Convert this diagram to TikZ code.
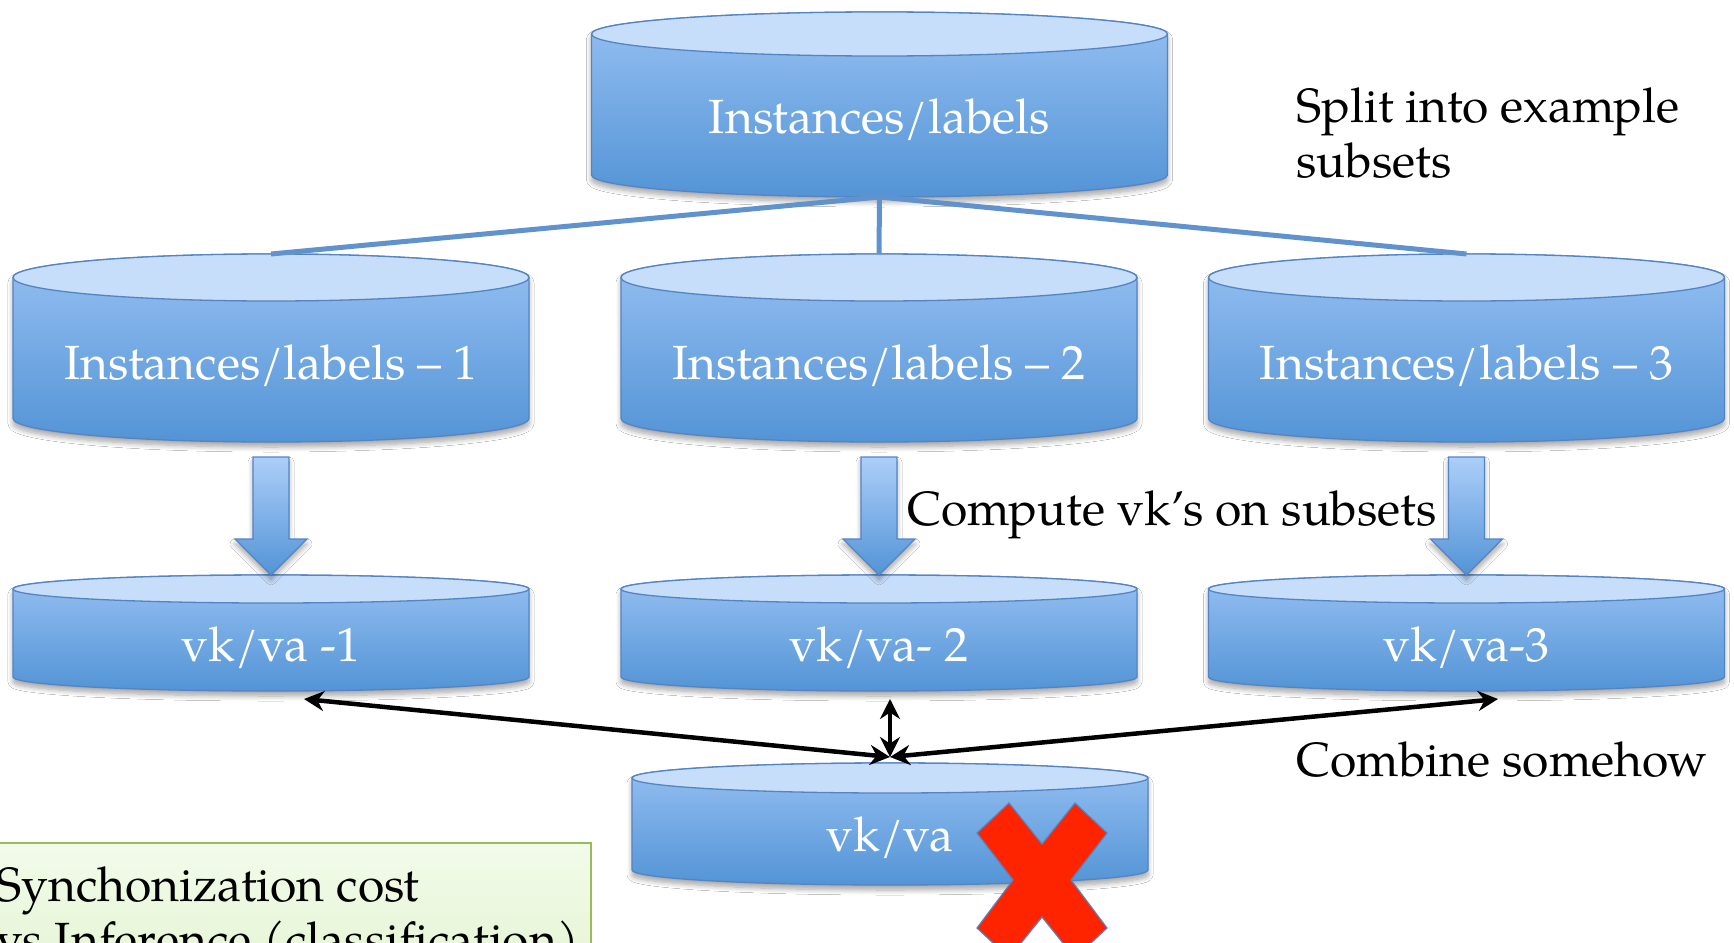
\documentclass[tikz,border=0pt]{standalone}
\usepackage{fontspec}
\setmainfont{texgyrepagella-regular.otf}
\usetikzlibrary{arrows.meta,shadows.blur}
\definecolor{topfill}{RGB}{199,222,250}
\definecolor{bodytop}{RGB}{150,192,242}
\definecolor{bodybot}{RGB}{83,148,214}
\definecolor{cylborder}{RGB}{84,132,196}
\definecolor{splitcol}{RGB}{96,146,206}
\definecolor{arrtop}{RGB}{172,206,250}
\definecolor{xred}{RGB}{255,36,0}
\definecolor{gtop}{RGB}{242,251,234}
\definecolor{gbot}{RGB}{226,243,206}
\definecolor{gborder}{RGB}{155,187,89}
\tikzset{
  myshadow/.style={blur shadow={shadow xshift=0pt,shadow yshift=-5pt,shadow blur radius=5pt,shadow blur steps=8,shadow opacity=35}},
  cylbody/.style={top color=bodytop,bottom color=bodybot,draw=cylborder,line width=1.3pt,myshadow},
  cyltop/.style={fill=topfill,draw=cylborder,line width=1.3pt},
  cyltext/.style={text=white,font=\fontsize{48}{58}\selectfont,inner sep=0pt,anchor=base},
  lbl/.style={text=black,font=\fontsize{48}{55}\selectfont,inner sep=0pt},
  splitline/.style={draw=splitcol,line width=5pt},
  barrow/.style={top color=arrtop,bottom color=bodybot,draw=cylborder,line width=1.3pt,myshadow},
  biarrow/.style={draw=black,line width=4.5pt,{Stealth[length=20pt,width=20pt]}-{Stealth[length=20pt,width=20pt]}},
  xmark/.style={fill=xred,draw=cylborder,line width=1.2pt},
  greenbox/.style={top color=gtop,bottom color=gbot,draw=gborder,line width=1.8pt}
}
% name, cx, top-ellipse cy, bottom-ellipse cy, rx, ry, text baseline, text
\newcommand{\dbcyl}[8]{%
  \path[cylbody] ({#2-#5},#3) -- ({#2-#5},#4)
    arc[start angle=180,end angle=360,x radius=#5pt,y radius=#6pt]
    -- ({#2+#5},#3)
    arc[start angle=0,end angle=180,x radius=#5pt,y radius=#6pt] -- cycle;
  \path[cyltop] (#2,#3) ellipse[x radius=#5pt,y radius=#6pt];
  \node[cyltext] (#1) at (#2,#7) {#8};
  \coordinate (#1-n) at (#2,{#3-#6});
  \coordinate (#1-s) at (#2,{#4+#6});
}
\newcommand{\blockarrow}[1]{%
  \path[barrow] ({#1-18},457) -- ({#1+18},457) -- ({#1+18},539) -- ({#1+36},539)
    -- (#1,575) -- ({#1-36},539) -- ({#1-18},539) -- cycle;
}
\begin{document}
\begin{tikzpicture}[x=1pt,y=-1pt]
\useasboundingbox (0,0) rectangle (1734,942);
\fill[white] (0,0) rectangle (1734,942);

% note box
\path[greenbox] (-20,843) rectangle (591,1010);
\node[lbl,anchor=north west,align=left] (sync) at (-4,866)
  {Synchonization cost\\vs Inference (classification)};

% cylinders
\dbcyl{top}{879.5}{34}{175}{288}{22}{133}{Instances/labels}
\dbcyl{l1}{271}{277.5}{418.5}{258}{23.5}{379}{Instances/labels – 1}
\dbcyl{l2}{879}{277.5}{418.5}{258}{23.5}{379}{Instances/labels – 2}
\dbcyl{l3}{1466.5}{277.5}{418.5}{258}{23.5}{379}{Instances/labels – 3}

\draw[splitline] (top-s) -- (l1-n);
\draw[splitline] (top-s) -- (l2-n);
\draw[splitline] (top-s) -- (l3-n);

\dbcyl{v1}{271}{589}{677}{258}{14}{661}{vk/va -1}
\dbcyl{v2}{879}{589}{677}{258}{14}{661}{vk/va- 2}
\dbcyl{v3}{1466.5}{589}{677}{258}{14}{661}{vk/va-3}

\blockarrow{271}
\blockarrow{879}
\blockarrow{1466.5}

\dbcyl{comb}{890}{778}{870}{258}{15}{851}{vk/va}

% red cross
\begin{scope}[shift={(1042,880)}]
  \path[xmark] (-65,-47) -- (-33,-77) -- (0,-36) -- (33,-77) -- (65,-47) -- (29,0)
    -- (65,48) -- (33,78) -- (0,37) -- (-33,78) -- (-65,48) -- (-29,0) -- cycle;
\end{scope}

% combine arrows
\coordinate (hub) at (890,757);
\coordinate (p1) at (304,699);
\coordinate (p2) at (890,699);
\coordinate (p3) at (1498,699);
\draw[biarrow] (p1) -- (hub);
\draw[biarrow] (p2) -- (hub);
\draw[biarrow] (p3) -- (hub);

% labels
\node[lbl,anchor=north west,align=left] (split) at (1296,87) {Split into example\\subsets};
\node[lbl,anchor=base] (compute) at (1172,525) {Compute vk’s on subsets};
\node[lbl,anchor=base] (combine) at (1502,776) {Combine somehow};
\end{tikzpicture}
\end{document}
